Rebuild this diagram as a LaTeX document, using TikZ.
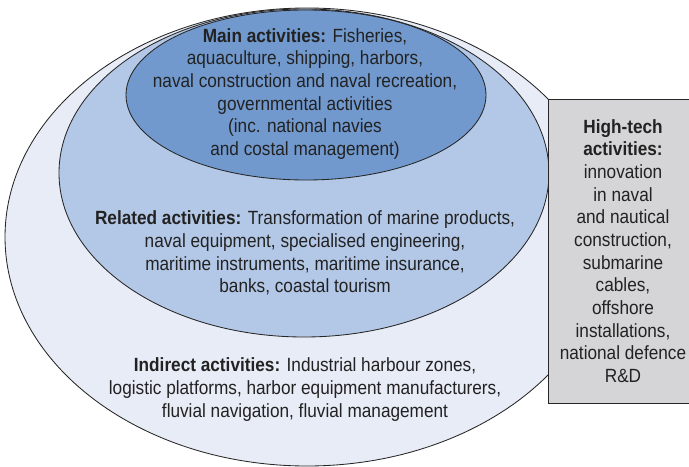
\documentclass[tikz,border=0pt]{standalone}
\usepackage{fontspec}
\setmainfont{Liberation Sans}[FakeStretch=0.9]
\usepackage{xcolor}
\usepackage{tikz}
\usetikzlibrary{positioning}

\definecolor{mainblue}{HTML}{7199CE}
\definecolor{relblue}{HTML}{B3C7E6}
\definecolor{indblue}{HTML}{E8ECF6}
\definecolor{techgray}{HTML}{D5D5D7}
\definecolor{txt}{HTML}{222222}

\begin{document}
\begin{tikzpicture}[x=0.025cm,y=-0.025cm,
  ring/.style={draw=black!85, line width=0.6pt},
  lbl/.style={align=center, text=txt, inner sep=0pt, font=\fontsize{13.6}{16.1}\selectfont}]
\useasboundingbox (0,0) rectangle (689,466);
\clip (0,0) rectangle (689,466);
\draw[ring, fill=indblue] (307,237) ellipse [x radius=302, y radius=229];
\draw[ring, fill=relblue] (304,173) ellipse [x radius=245, y radius=164];
\draw[ring, fill=mainblue] (306,95) ellipse [x radius=180, y radius=85];
\draw[ring, fill=techgray] (548,99) rectangle (695,403);
\node[lbl] (main) at (305,94) {\textbf{Main activities:} Fisheries,\\
  aquaculture, shipping, harbors,\\
  naval construction and naval recreation,\\
  governmental activities\\
  (inc. national navies\\
  and costal management)};
\node[lbl] (related) at (305,253) {\textbf{Related activities:} Transformation of marine products,\\
  naval equipment, specialised engineering,\\
  maritime instruments, maritime insurance,\\
  banks, coastal tourism};
\node[lbl] (indirect) at (305,389.5) {\textbf{Indirect activities:} Industrial harbour zones,\\
  logistic platforms, harbor equipment manufacturers,\\
  fluvial navigation, fluvial management};
\node[lbl] (hightech) at (623,251) {\textbf{High-tech}\\ \textbf{activities:}\\
  innovation\\ in naval\\ and nautical\\ construction,\\ submarine\\ cables,\\
  offshore\\ installations,\\ national defence\\ R\&D};
\end{tikzpicture}
\end{document}
